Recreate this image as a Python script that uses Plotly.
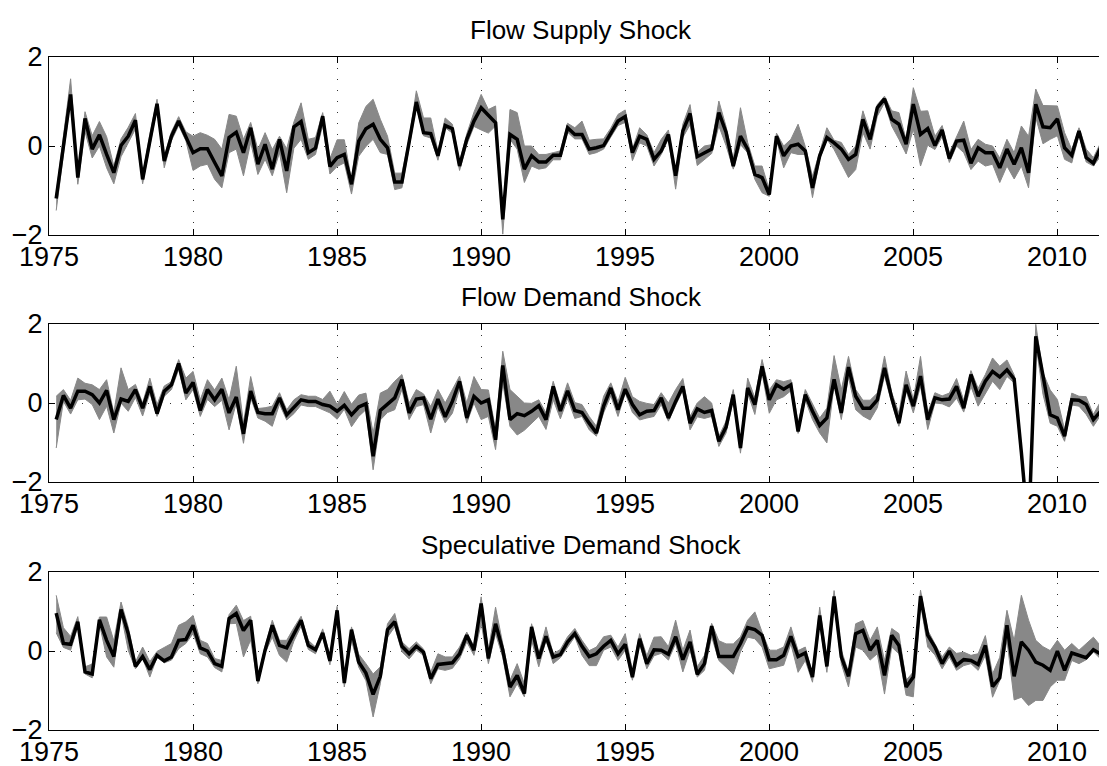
import plotly.graph_objects as go

# quarterly dates: 1975Q2 .. 2011Q4
start_year = 1975.25
n_quarters = 147
dates = [start_year + 0.25 * i for i in range(n_quarters)]

titles = ["Flow Supply Shock", "Flow Demand Shock", "Speculative Demand Shock"]
x_ticks = [1975, 1980, 1985, 1990, 1995, 2000, 2005, 2010]
x_tick_labels = ["1975", "1980", "1985", "1990", "1995", "2000", "2005", "2010"]
y_ticks = [-2, 0, 2]

supply = [
    -1.18, 0.0, 1.16, -0.71, 0.62, -0.07, 0.25, -0.19, -0.6, 0.01,
    0.22, 0.58, -0.75, 0.11, 0.95, -0.34, 0.22, 0.56, 0.22, -0.15,
    -0.06, -0.06, -0.37, -0.67, 0.19, 0.31, -0.15, 0.41, -0.41, 0.04,
    -0.52, 0.15, -0.56, 0.43, 0.55, -0.15, -0.05, 0.67, -0.46, -0.26,
    -0.19, -0.86, 0.11, 0.39, 0.49, 0.15, -0.04, -0.81, -0.81, 0.07,
    0.99, 0.3, 0.28, -0.22, 0.46, 0.39, -0.45, 0.15, 0.56, 0.86,
    0.69, 0.52, -1.65, 0.26, 0.15, -0.52, -0.22, -0.36, -0.36, -0.21,
    -0.21, 0.41, 0.26, 0.26, -0.07, -0.04, 0.01, 0.3, 0.56, 0.66,
    -0.15, 0.22, 0.15, -0.3, -0.11, 0.26, -0.67, 0.34, 0.73, -0.24,
    -0.15, -0.07, 0.75, 0.31, -0.45, 0.22, -0.07, -0.64, -0.71, -1.09,
    0.22, -0.22, 0.0, 0.04, -0.11, -0.94, -0.22, 0.19, 0.07, -0.07,
    -0.3, -0.19, 0.6, 0.15, 0.86, 1.06, 0.6, 0.49, 0.04, 0.94,
    0.26, 0.39, 0.01, 0.36, -0.28, 0.11, 0.13, -0.39, -0.04, -0.15,
    -0.15, -0.49, -0.07, -0.41, -0.04, -0.6, 0.94, 0.43, 0.41, 0.61,
    -0.04, -0.21, 0.34, -0.26, -0.39, -0.04, -0.45,
]
supply_hi = [
    0.1, 0.2, 0.35, 0.1, 0.15, 0.3, 0.3, 0.4, 0.15, 0.15,
    0.2, 0.15, 0.1, 0.15, 0.1, 0.1, 0.1, 0.1, 0.1, 0.37,
    0.36, 0.3, 0.52, 0.6, 0.52, 0.36, 0.3, 0.12, 0.33, 0.26,
    0.44, 0.07, 0.5, 0.11, 0.42, 0.3, 0.24, 0.08, 0.17, 0.4,
    0.33, 0.1, 0.41, 0.5, 0.56, 0.45, 0.26, 0.2, 0.2, 0.1,
    0.25, 0.33, 0.35, 0.1, 0.17, 0.1, 0.1, 0.12, 0.2, 0.3,
    0.13, 0.38, 0.1, 0.56, 0.6, 0.52, 0.22, 0.17, 0.17, 0.06,
    0.1, 0.1, 0.15, 0.3, 0.2, 0.19, 0.15, 0.1, 0.15, 0.15,
    0.08, 0.19, 0.1, 0.15, 0.26, 0.1, 0.07, 0.15, 0.2, 0.1,
    0.15, 0.1, 0.26, 0.13, 0.15, 0.64, 0.15, 0.19, 0.26, 0.11,
    0.07, 0.22, 0.15, 0.45, 0.1, 0.26, 0.08, 0.22, 0.06, 0.15,
    0.11, 0.19, 0.19, 0.15, 0.07, 0.06, 0.19, 0.26, 0.11, 0.37,
    0.52, 0.4, 0.21, 0.1, 0.13, 0.11, 0.43, 0.31, 0.19, 0.19,
    0.15, 0.22, 0.22, 0.26, 0.49, 0.82, 0.34, 0.48, 0.5, 0.29,
    0.34, 0.13, 0.07, 0.19, 0.13, 0.11, 0.15,
]
supply_lo = [
    0.27, 0.2, 0.1, 0.15, 0.3, 0.2, 0.25, 0.3, 0.25, 0.25,
    0.15, 0.2, 0.1, 0.15, 0.1, 0.15, 0.1, 0.1, 0.1, 0.4,
    0.39, 0.35, 0.38, 0.27, 0.34, 0.38, 0.52, 0.33, 0.23, 0.34,
    0.15, 0.3, 0.49, 0.48, 0.4, 0.15, 0.14, 0.2, 0.17, 0.2,
    0.19, 0.22, 0.34, 0.4, 0.34, 0.3, 0.15, 0.17, 0.13, 0.1,
    0.1, 0.07, 0.1, 0.1, 0.05, 0.1, 0.1, 0.12, 0.12, 0.5,
    0.4, 0.07, 0.33, 0.11, 0.22, 0.3, 0.23, 0.16, 0.13, 0.1,
    0.1, 0.1, 0.1, 0.1, 0.12, 0.11, 0.08, 0.1, 0.1, 0.13,
    0.18, 0.15, 0.15, 0.15, 0.08, 0.1, 0.3, 0.15, 0.25, 0.2,
    0.15, 0.1, 0.3, 0.3, 0.07, 0.19, 0.08, 0.11, 0.34, 0.04,
    0.07, 0.27, 0.15, 0.23, 0.08, 0.22, 0.08, 0.04, 0.15, 0.34,
    0.41, 0.34, 0.3, 0.22, 0.19, 0.09, 0.15, 0.34, 0.22, 0.56,
    0.71, 0.37, 0.09, 0.15, 0.09, 0.11, 0.28, 0.14, 0.3, 0.3,
    0.26, 0.33, 0.38, 0.33, 0.41, 0.34, 0.3, 0.38, 0.26, 0.38,
    0.26, 0.17, 0.1, 0.1, 0.06, 0.19, 0.37,
]

demand = [
    -0.42, 0.19, -0.13, 0.3, 0.3, 0.21, 0.0, 0.32, -0.42, 0.1,
    0.04, 0.34, -0.13, 0.42, -0.27, 0.3, 0.46, 1.0, 0.25, 0.52,
    -0.19, 0.34, 0.08, 0.35, -0.25, 0.15, -0.78, 0.3, -0.24, -0.27,
    -0.27, 0.13, -0.3, -0.12, 0.08, 0.04, 0.04, -0.04, -0.08, -0.21,
    -0.06, -0.3, -0.1, -0.02, -1.35, -0.19, -0.04, 0.13, 0.59, -0.25,
    0.1, 0.13, -0.41, 0.1, -0.35, 0.04, 0.55, -0.38, 0.17, 0.0,
    0.08, -0.93, 0.95, -0.42, -0.27, -0.32, -0.21, -0.07, -0.42, 0.42,
    -0.2, 0.31, -0.19, -0.24, -0.51, -0.76, -0.08, 0.38, -0.17, 0.35,
    -0.04, -0.3, -0.21, -0.19, 0.13, -0.38, 0.04, 0.42, -0.51, -0.15,
    -0.24, -0.19, -0.97, -0.61, 0.21, -1.14, 0.38, -0.04, 0.93, 0.08,
    0.46, 0.35, 0.46, -0.72, 0.21, -0.21, -0.57, -0.38, 0.6, -0.25,
    0.91, 0.17, -0.13, -0.13, 0.08, 0.89, 0.13, -0.51, 0.46, -0.08,
    0.68, -0.42, 0.13, 0.08, 0.1, 0.42, -0.13, 0.72, 0.17, 0.55,
    0.8, 0.66, 0.84, 0.61, -1.25, -3.3, 1.69, 0.72, -0.3, -0.38,
    -0.84, 0.08, 0.07, -0.04, -0.42, -0.21, 0.08,
]
demand_hi = [
    0.59, 0.15, 0.2, 0.33, 0.2, 0.25, 0.34, 0.27, 0.17, 0.79,
    0.3, 0.13, 0.13, 0.21, 0.23, 0.13, 0.08, 0.1, 0.38, 0.28,
    0.27, 0.25, 0.25, 0.28, 0.33, 0.78, 0.27, 0.37, 0.1, 0.15,
    0.19, 0.13, 0.13, 0.2, 0.13, 0.13, 0.13, 0.13, 0.38, 0.17,
    0.35, 0.27, 0.3, 0.27, 0.59, 0.44, 0.38, 0.42, 0.13, 0.25,
    0.24, 0.1, 0.32, 0.24, 0.35, 0.3, 0.13, 0.38, 0.5, 0.34,
    0.25, 0.25, 0.36, 0.76, 0.43, 0.32, 0.2, 0.15, 0.17, 0.13,
    0.15, 0.2, 0.2, 0.2, 0.17, 0.17, 0.25, 0.13, 0.2, 0.3,
    0.2, 0.34, 0.2, 0.15, 0.13, 0.38, 0.3, 0.2, 0.17, 0.15,
    0.4, 0.19, 0.13, 0.15, 0.13, 0.13, 0.25, 0.17, 0.17, 0.25,
    0.13, 0.19, 0.13, 0.21, 0.13, 0.17, 0.19, 0.25, 0.6, 0.59,
    0.27, 0.17, 0.2, 0.2, 0.17, 0.3, 0.13, 0.25, 0.35, 0.17,
    0.5, 0.17, 0.13, 0.1, 0.15, 0.2, 0.2, 0.1, 0.2, 0.17,
    0.34, 0.27, 0.25, 0.1, 0.1, 0.1, 0.3, 0.05, 0.63, 0.47,
    0.17, 0.17, 0.1, 0.2, 0.13, 0.25, 0.6,
]
demand_lo = [
    0.72, 0.15, 0.15, 0.22, 0.2, 0.25, 0.42, 0.4, 0.34, 0.1,
    0.25, 0.2, 0.2, 0.17, 0.07, 0.13, 0.12, 0.15, 0.17, 0.18,
    0.15, 0.25, 0.17, 0.28, 0.43, 0.15, 0.24, 0.17, 0.14, 0.19,
    0.32, 0.16, 0.13, 0.15, 0.13, 0.13, 0.13, 0.13, 0.17, 0.2,
    0.1, 0.3, 0.24, 0.15, 0.34, 0.24, 0.2, 0.3, 0.25, 0.17,
    0.19, 0.17, 0.35, 0.19, 0.15, 0.3, 0.2, 0.13, 0.17, 0.42,
    0.42, 0.25, 0.44, 0.17, 0.54, 0.37, 0.3, 0.27, 0.25, 0.34,
    0.2, 0.2, 0.2, 0.1, 0.17, 0.08, 0.17, 0.2, 0.17, 0.1,
    0.2, 0.13, 0.17, 0.15, 0.17, 0.08, 0.1, 0.1, 0.17, 0.2,
    0.15, 0.15, 0.13, 0.15, 0.13, 0.13, 0.13, 0.25, 0.17, 0.34,
    0.38, 0.19, 0.15, 0.05, 0.13, 0.21, 0.19, 0.63, 0.15, 0.17,
    0.25, 0.34, 0.2, 0.3, 0.2, 0.2, 0.13, 0.08, 0.15, 0.17,
    0.25, 0.25, 0.13, 0.1, 0.2, 0.3, 0.1, 0.3, 0.25, 0.3,
    0.25, 0.32, 0.17, 0.1, 0.1, 0.1, 0.17, 0.5, 0.21, 0.21,
    0.13, 0.13, 0.15, 0.25, 0.17, 0.1, 0.6,
]

speculative = [
    0.96, 0.19, 0.17, 0.74, -0.53, -0.58, 0.79, 0.27, -0.14, 1.05,
    0.44, -0.39, -0.14, -0.47, -0.11, -0.25, -0.15, 0.27, 0.29, 0.65,
    0.08, 0.0, -0.32, -0.39, 0.82, 0.95, 0.52, 0.78, -0.76, 0.02,
    0.65, 0.14, 0.08, 0.42, 0.78, 0.14, 0.03, 0.46, -0.25, 1.03,
    -0.81, 0.54, -0.28, -0.56, -1.1, -0.64, 0.54, 0.74, 0.12, -0.07,
    0.12, -0.03, -0.7, -0.34, -0.32, -0.3, -0.07, 0.4, 0.02, 1.2,
    -0.19, 0.69, 0.03, -0.91, -0.62, -1.08, 0.61, -0.19, 0.37, -0.15,
    -0.09, 0.23, 0.44, 0.12, -0.14, -0.07, 0.12, 0.27, -0.07, 0.17,
    -0.66, 0.31, -0.32, 0.03, 0.02, -0.08, 0.36, -0.22, 0.23, -0.59,
    -0.32, 0.63, -0.14, -0.14, -0.14, 0.19, 0.59, 0.54, 0.4, -0.22,
    -0.22, -0.11, 0.37, -0.14, -0.05, -0.66, 0.9, -0.39, 1.38, -0.15,
    -0.64, 0.44, 0.52, 0.02, 0.27, -0.62, 0.4, 0.14, -0.91, -0.66,
    1.39, 0.4, 0.1, -0.32, 0.0, -0.36, -0.22, -0.24, -0.34, 0.14,
    -0.9, -0.68, 0.65, -0.64, 0.23, 0.02, -0.28, -0.36, -0.49, 0.0,
    -0.49, -0.05, -0.11, -0.17, 0.03, -0.07, -1.42,
]
speculative_hi = [
    0.45, 0.4, 0.2, 0.13, 0.13, 0.25, 0.07, 0.59, 0.4, 0.19,
    0.17, 0.11, 0.24, 0.2, 0.1, 0.35, 0.34, 0.38, 0.45, 0.25,
    0.19, 0.19, 0.13, 0.15, 0.1, 0.21, 0.25, 0.1, 0.1, 0.1,
    0.13, 0.13, 0.19, 0.17, 0.1, 0.13, 0.07, 0.1, 0.13, 0.1,
    0.15, 0.07, 0.2, 0.24, 0.52, 0.24, 0.15, 0.21, 0.11, 0.13,
    0.11, 0.08, 0.17, 0.27, 0.17, 0.15, 0.17, 0.08, 0.1, 0.17,
    0.21, 0.42, 0.15, 0.17, 0.3, 0.25, 0.08, 0.13, 0.24, 0.08,
    0.13, 0.13, 0.13, 0.15, 0.15, 0.17, 0.24, 0.13, 0.17, 0.27,
    0.17, 0.13, 0.2, 0.32, 0.34, 0.19, 0.42, 0.24, 0.3, 0.19,
    0.21, 0.07, 0.4, 0.32, 0.32, 0.17, 0.19, 0.45, 0.08, 0.24,
    0.24, 0.21, 0.24, 0.15, 0.15, 0.08, 0.21, 0.15, 0.15, 0.17,
    0.11, 0.25, 0.25, 0.25, 0.34, 0.38, 0.17, 0.3, 0.17, 0.13,
    0.15, 0.13, 0.08, 0.17, 0.1, 0.3, 0.19, 0.13, 0.27, 0.25,
    0.32, 0.52, 0.38, 0.9, 1.18, 0.76, 0.55, 0.47, 0.5, 0.27,
    0.51, 0.24, 0.13, 0.36, 0.32, 0.2, 0.68,
]
speculative_lo = [
    0.5, 0.1, 0.15, 0.13, 0.05, 0.1, 0.1, 0.42, 0.27, 0.1,
    0.42, 0.06, 0.05, 0.19, 0.05, 0.05, 0.08, 0.21, 0.1, 0.21,
    0.15, 0.15, 0.1, 0.14, 0.13, 0.25, 0.67, 0.5, 0.07, 0.07,
    0.3, 0.25, 0.36, 0.17, 0.15, 0.1, 0.1, 0.1, 0.1, 0.1,
    0.1, 0.27, 0.13, 0.19, 0.57, 0.19, 0.19, 0.13, 0.14, 0.13,
    0.1, 0.08, 0.13, 0.11, 0.17, 0.14, 0.13, 0.17, 0.13, 0.5,
    0.13, 0.25, 0.19, 0.25, 0.21, 0.08, 0.34, 0.21, 0.1, 0.17,
    0.08, 0.13, 0.08, 0.23, 0.23, 0.3, 0.1, 0.17, 0.17, 0.15,
    0.08, 0.13, 0.13, 0.15, 0.08, 0.15, 0.17, 0.31, 0.21, 0.07,
    0.17, 0.27, 0.1, 0.27, 0.45, 0.21, 0.24, 0.23, 0.3, 0.23,
    0.19, 0.25, 0.19, 0.4, 0.19, 0.13, 0.21, 0.15, 0.15, 0.17,
    0.27, 0.34, 0.5, 0.25, 0.34, 0.47, 0.3, 0.21, 0.21, 0.5,
    0.19, 0.3, 0.2, 0.13, 0.15, 0.13, 0.15, 0.08, 0.15, 0.25,
    0.27, 0.07, 0.38, 0.6, 1.4, 1.4, 0.97, 0.89, 0.42, 0.74,
    0.25, 0.19, 0.21, 0.05, 0.05, 0.13, 0.34,
]

panels = [
    (supply, supply_hi, supply_lo),
    (demand, demand_hi, demand_lo),
    (speculative, speculative_hi, speculative_lo),
]

W, H = 1107, 766
OFF = 8                     # page offset of the plot div (default body margin)
AX_LEFT = 49 - OFF          # left edge of axes in figure pixels
boxes = [(57, 235), (324, 482), (572, 730)]   # page pixels (top, bottom)
title_y = [30, 297, 545]
TITLE_X = 581
GRAY = "#888888"
FONT = "Liberation Sans, Arial, Helvetica, sans-serif"
X_RANGE = [1975, 2012]

fig = go.Figure()
layout = dict(
    template="none",
    width=W, height=H,
    margin=dict(l=0, r=0, t=0, b=0, pad=0, autoexpand=False),
    paper_bgcolor="white", plot_bgcolor="white",
    showlegend=False,
    font=dict(family=FONT, size=27, color="black"),
    annotations=[],
)

for i, (vals, hi, lo) in enumerate(panels):
    n = i + 1
    xa = "x" if n == 1 else f"x{n}"
    ya = "y" if n == 1 else f"y{n}"
    upper = [v + h for v, h in zip(vals, hi)]
    lower = [v - l for v, l in zip(vals, lo)]
    fig.add_trace(go.Scatter(x=dates, y=lower, mode="lines",
                             line=dict(color=GRAY, width=1),
                             xaxis=xa, yaxis=ya, hoverinfo="skip"))
    fig.add_trace(go.Scatter(x=dates, y=upper, mode="lines",
                             line=dict(color=GRAY, width=1),
                             fill="tonexty", fillcolor=GRAY,
                             xaxis=xa, yaxis=ya, hoverinfo="skip"))
    fig.add_trace(go.Scatter(x=dates, y=vals, mode="lines",
                             line=dict(color="black", width=3.5),
                             xaxis=xa, yaxis=ya))
    top, bot = boxes[i]
    top_f, bot_f = top - OFF, bot - OFF
    xkey = "xaxis" if n == 1 else f"xaxis{n}"
    ykey = "yaxis" if n == 1 else f"yaxis{n}"
    layout[xkey] = dict(
        domain=[AX_LEFT / W, 1], anchor=ya, range=X_RANGE,
        automargin=False,
        tickvals=x_ticks, showticklabels=False,
        ticks="inside", ticklen=6, tickcolor="black",
        showline=True, linecolor="black", linewidth=1, mirror="ticks",
        showgrid=True, gridcolor="#333333", gridwidth=1, griddash="1px,10px",
        zeroline=False,
    )
    layout[ykey] = dict(
        domain=[1 - bot_f / H, 1 - top_f / H], anchor=xa, range=[-2, 2],
        automargin=False,
        tickvals=y_ticks, ticks="inside", ticklen=6, tickcolor="black",
        showline=True, linecolor="black", linewidth=1,
        showgrid=True, gridcolor="#333333", gridwidth=1, griddash="1px,10px",
        zeroline=False, tickfont=dict(size=27, family=FONT),
        ticklabelstandoff=0,
    )
    # x tick labels
    for tv, tl in zip(x_ticks, x_tick_labels):
        layout["annotations"].append(dict(
            text=tl, x=tv, xref=xa, y=1 - (bot_f + 21.5) / H, yref="paper",
            xanchor="center", yanchor="middle", showarrow=False,
            font=dict(size=27, family=FONT, color="black"),
        ))
    layout["annotations"].append(dict(
        text=titles[i], x=(TITLE_X - OFF) / W, y=1 - (title_y[i] - OFF) / H,
        xref="paper", yref="paper",
        xanchor="center", yanchor="middle", showarrow=False,
        font=dict(size=26, family=FONT, color="black"),
    ))

fig.update_layout(**layout)
fig.write_html("out.html")
